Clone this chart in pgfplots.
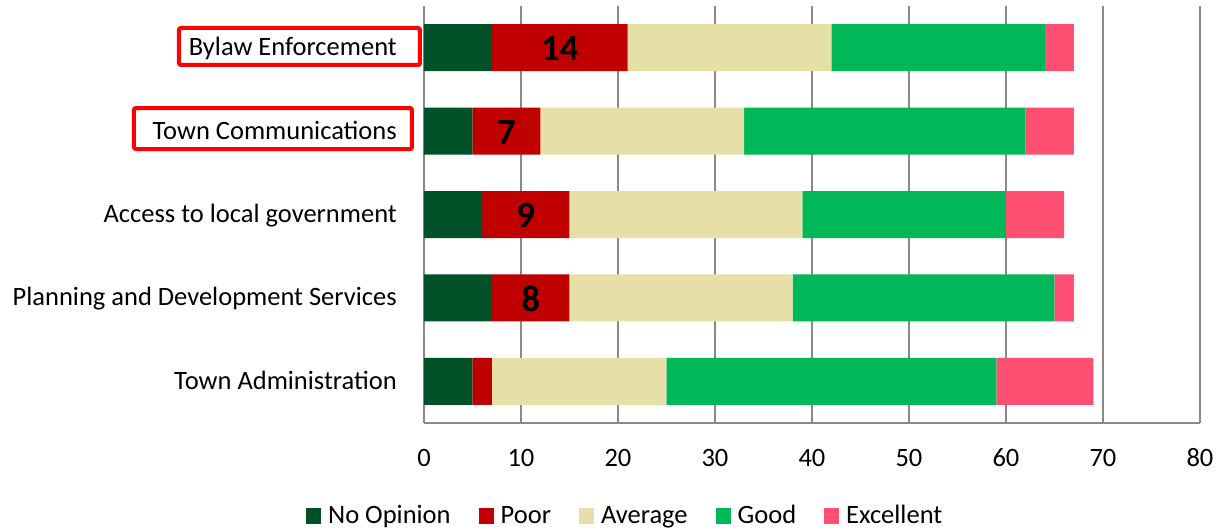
\documentclass[border=0pt]{standalone}
\usepackage{fontspec}
\setmainfont{Carlito}
\usepackage{pgfplots}
\pgfplotsset{compat=1.18}
\definecolor{cNo}{RGB}{0,80,40}
\definecolor{cPoor}{RGB}{192,0,0}
\definecolor{cAvg}{RGB}{230,224,168}
\definecolor{cGood}{RGB}{0,184,88}
\definecolor{cExc}{RGB}{255,80,115}
\definecolor{gridgray}{RGB}{137,137,137}
\pgfplotsset{sqlegend/.style={legend image code/.code={\fill[##1] (0pt,-7.5pt) rectangle (15pt,7.5pt);}}}
\newcommand{\txt}{\fontsize{26.5}{31}\selectfont}
\begin{document}
\begin{tikzpicture}
\path[use as bounding box] (-424pt,-108pt) rectangle (797pt,423pt);
\begin{axis}[at={(0pt,0pt)}, anchor=south west, scale only axis,
  width=776pt, height=417pt,
  xbar stacked, bar width=47pt,
  xmin=0, xmax=80, ymin=-0.5, ymax=4.5,
  xtick={0,10,...,80}, ytick={0,1,2,3,4},
  yticklabels={Town Administration, Planning and Development Services, Access to local government, Town Communications, Bylaw Enforcement},
  axis x line*=bottom, axis y line*=left,
  axis line style={draw=gridgray, line width=2pt},
  xmajorgrids, grid style={draw=gridgray, line width=2pt},
  major tick length=0pt, tick style={draw=none},
  /pgf/number format/assume math mode=true,
  ticklabel style={font=\txt, inner sep=0pt},
  xticklabel style={anchor=base, yshift=-43pt},
  yticklabel style={anchor=base east, xshift=-27pt, yshift=-8pt},
  legend columns=-1,
  legend style={at={(-0.1521,-0.2230)}, anchor=west, draw=none, inner sep=0pt,
    font=\txt,
    nodes={inner sep=0pt, text height=20pt, text depth=5pt},
    /tikz/every odd column/.append style={column sep=7pt},
    /tikz/every even column/.append style={column sep=28pt}},
]
\addplot[fill=cNo, draw=none, sqlegend] coordinates {(5,0) (7,1) (6,2) (5,3) (7,4)};
\addplot[fill=cPoor, draw=none, sqlegend] coordinates {(2,0) (8,1) (9,2) (7,3) (14,4)};
\addplot[fill=cAvg, draw=none, sqlegend] coordinates {(18,0) (23,1) (24,2) (21,3) (21,4)};
\addplot[fill=cGood, draw=none, sqlegend] coordinates {(34,0) (27,1) (21,2) (29,3) (22,4)};
\addplot[fill=cExc, draw=none, sqlegend] coordinates {(10,0) (2,1) (6,2) (5,3) (3,4)};
\legend{No Opinion, Poor, Average, Good, Excellent}
\end{axis}
\begin{axis}[at={(0pt,0pt)}, anchor=south west, scale only axis,
  width=776pt, height=417pt,
  xmin=0, xmax=80, ymin=-0.5, ymax=4.5, hide axis, clip=false]
\addplot[only marks, mark=none, nodes near coords, point meta=explicit symbolic,
  nodes near coords style={font=\fontsize{37}{40}\selectfont\bfseries, anchor=center, inner sep=0pt, text=black, yshift=-1pt}]
  coordinates {(14,4) [14] (8.5,3) [7] (10.5,2) [9] (11,1) [8]};
\end{axis}
\draw[red, line width=4pt, rounded corners=2pt] (-245pt,358pt) rectangle (-4pt,395pt);
\draw[red, line width=4pt, rounded corners=2pt] (-290pt,274pt) rectangle (-12pt,315pt);
\end{tikzpicture}
\end{document}
